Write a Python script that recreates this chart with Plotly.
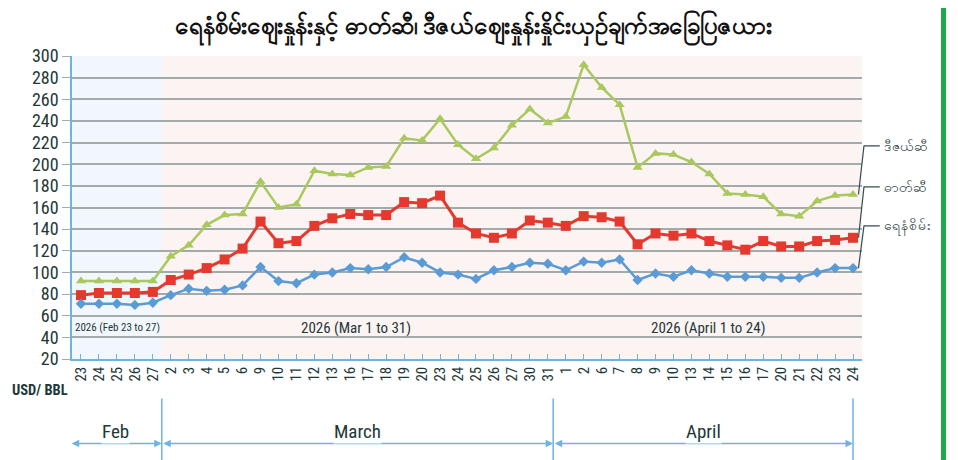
import plotly.graph_objects as go

# ---------------- data ----------------
feb_days = [23, 24, 25, 26, 27]
mar_days = [2, 3, 4, 5, 6, 9, 10, 11, 12, 13, 16, 17, 18, 19, 20, 23, 24, 25, 26, 27, 30, 31]
apr_days = [1, 2, 6, 7, 8, 9, 10, 13, 14, 15, 16, 17, 20, 21, 22, 23, 24]

crude = [71, 71, 71, 70, 72,
         79, 85, 83, 84, 88, 105, 92, 90, 98, 100, 104, 103, 105, 114, 109, 100, 98, 94, 102, 105, 109, 108,
         102, 110, 109, 112, 93, 99, 96, 102, 99, 96, 96, 96, 95, 95, 100, 104, 104]
petrol = [79, 81, 81, 81, 82,
          93, 98, 104, 112, 122, 147, 127, 129, 143, 150, 154, 153, 153, 165, 164, 171, 146, 136, 132, 136, 148, 146,
          143, 152, 151, 147, 126, 136, 134, 136, 129, 125, 121, 129, 124, 124, 129, 130, 132]
diesel = [92, 92, 92, 92, 92,
          115, 125, 144, 153, 154, 184, 160, 163, 194, 191, 190, 197, 198, 224, 222, 242, 218, 205, 215, 236, 251, 238,
          244, 292, 271, 255, 197, 210, 209, 202, 191, 173, 172, 170, 154, 152, 166, 171, 172]

series_names = ["ဒီဇယ်ဆီ", "ဓာတ်ဆီ", "ရေနံစိမ်း"]
month_labels = ["Feb", "March", "April"]
period_labels = ["2026 (Feb 23 to 27)", "2026 (Mar 1 to 31)", "2026 (April 1 to 24)"]
title_text = "ရေနံစိမ်းဈေးနှုန်းနှင့် ဓာတ်ဆီ၊ ဒီဇယ်ဈေးနှုန်းနှိုင်းယှဉ်ချက်အခြေပြဇယား"
y_ticks = list(range(20, 301, 20))

days = feb_days + mar_days + apr_days
xs = list(range(len(days)))
n_feb, n_mar, n_apr = len(feb_days), len(mar_days), len(apr_days)

GREEN = "#a9c85e"
RED = "#e4392e"
BLUE = "#5b9bd5"
AXBLUE = "#6fb3e0"
TXT = "#1e3838"
FONT = "Liberation Sans Narrow, Roboto Condensed, Arial Narrow, Liberation Sans, sans-serif"

fig = go.Figure()
fig.add_trace(go.Scatter(x=xs, y=diesel, mode="lines+markers", name=series_names[0],
                         line=dict(color=GREEN, width=2.5),
                         marker=dict(symbol="triangle-up", size=9, color=GREEN)))
fig.add_trace(go.Scatter(x=xs, y=petrol, mode="lines+markers", name=series_names[1],
                         line=dict(color=RED, width=3),
                         marker=dict(symbol="square", size=10, color=RED)))
fig.add_trace(go.Scatter(x=xs, y=crude, mode="lines+markers", name=series_names[2],
                         line=dict(color=BLUE, width=2.5),
                         marker=dict(symbol="diamond", size=8, color=BLUE)))

shapes = []
# Feb background tint
shapes.append(dict(type="rect", xref="x", yref="paper", x0=-0.5, x1=n_feb - 0.5, y0=0, y1=1,
                   fillcolor="#f1f7fc", line=dict(width=0), layer="below"))

# bracket verticals below the axis
bounds = [-0.6, n_feb - 0.5, n_feb + n_mar - 0.7, len(days) - 1]
for b in bounds:
    shapes.append(dict(type="line", xref="x", yref="paper", x0=b, x1=b, y0=-0.13, y1=-0.36,
                       line=dict(color=AXBLUE, width=1.5)))

annotations = []
# month brackets with arrows
month_starts = [bounds[0], bounds[1], bounds[2]]
month_ends = [bounds[1], bounds[2], bounds[3]]
yb = -0.279
for lab, a, b in zip(month_labels, month_starts, month_ends):
    annotations.append(dict(x=b, y=yb, xref="x", yref="paper", ax=a, ay=0, axref="x", ayref="pixel",
                            text="", showarrow=True, arrowside="end+start", arrowhead=2, arrowsize=1,
                            arrowwidth=1.5, arrowcolor=AXBLUE, standoff=0, startstandoff=0))
    annotations.append(dict(x=(a + b) / 2, y=yb, xref="x", yref="paper", text=lab, showarrow=False,
                            bgcolor="white", borderpad=0,
                            font=dict(size=19, color=TXT, family=FONT)))

# period annotations inside plot
annotations.append(dict(x=-0.45, y=49, xref="x", yref="y", text=period_labels[0], showarrow=False,
                        xanchor="left", font=dict(size=11, color=TXT, family=FONT)))
annotations.append(dict(x=15.3, y=49, xref="x", yref="y", text=period_labels[1], showarrow=False,
                        font=dict(size=15, color=TXT, family=FONT)))
annotations.append(dict(x=34.9, y=49, xref="x", yref="y", text=period_labels[2], showarrow=False,
                        font=dict(size=15, color=TXT, family=FONT)))

# USD/BBL label
annotations.append(dict(x=-0.04, y=-0.104, xref="paper", yref="paper", text="<b>USD/ BBL</b>", showarrow=False,
                        xanchor="center", yanchor="middle", font=dict(size=14.5, color=TXT, family=FONT)))

# leader lines + labels on the right
last_vals = [diesel[-1], petrol[-1], crude[-1]]
label_y = [217, 179, 143]
for name, v, ly in zip(series_names, last_vals, label_y):
    shapes.append(dict(type="path", xref="paper", yref="y",
                       path=f"M 0.9955 {v} L 1.0025 {ly} L 1.0225 {ly}",
                       line=dict(color="#2f4f4f", width=1.2)))
    annotations.append(dict(x=1.025, y=ly, xref="paper", yref="y", text=name, showarrow=False,
                            xanchor="left", yanchor="middle", font=dict(size=14, color=TXT)))

# green bar on right edge
shapes.append(dict(type="rect", xref="paper", yref="paper", x0=1.1,
                   x1=1.1 + 5 / 790, y0=-0.36, y1=1.19,
                   fillcolor="#1aab4b", line=dict(width=0)))

# the page adds an 8px body margin, so the figure is 8px smaller and shifted
fig.update_layout(
    width=950, height=452,
    margin=dict(l=64, r=96, t=48, b=101),
    paper_bgcolor="white",
    plot_bgcolor="#fcf3f3",
    showlegend=False,
    title=dict(text=f"<b>{title_text}</b>", x=0.49, xanchor="center", y=0.962, yanchor="middle",
               font=dict(size=24, color="#111111")),
    xaxis=dict(range=[-0.5, len(days) - 0.5], tickmode="array", tickvals=xs,
               ticktext=[str(d) for d in days], tickangle=-90,
               tickfont=dict(size=15, color=TXT, family=FONT),
               showgrid=False, zeroline=False, showline=True, linecolor=AXBLUE, linewidth=1.5,
               ticks="inside", ticklen=5, tickcolor=AXBLUE, tickson="boundaries"),
    yaxis=dict(range=[20, 300], tickmode="array", tickvals=y_ticks,
               tickfont=dict(size=18, color=TXT, family=FONT),
               showgrid=True, gridcolor="#a3aaaa", gridwidth=1.5, zeroline=False,
               showline=True, linecolor=AXBLUE, linewidth=1.5,
               ticks="outside", ticklen=8, tickcolor="#a3aaaa"),
    shapes=shapes,
    annotations=annotations,
)

fig.write_html("out.html")
